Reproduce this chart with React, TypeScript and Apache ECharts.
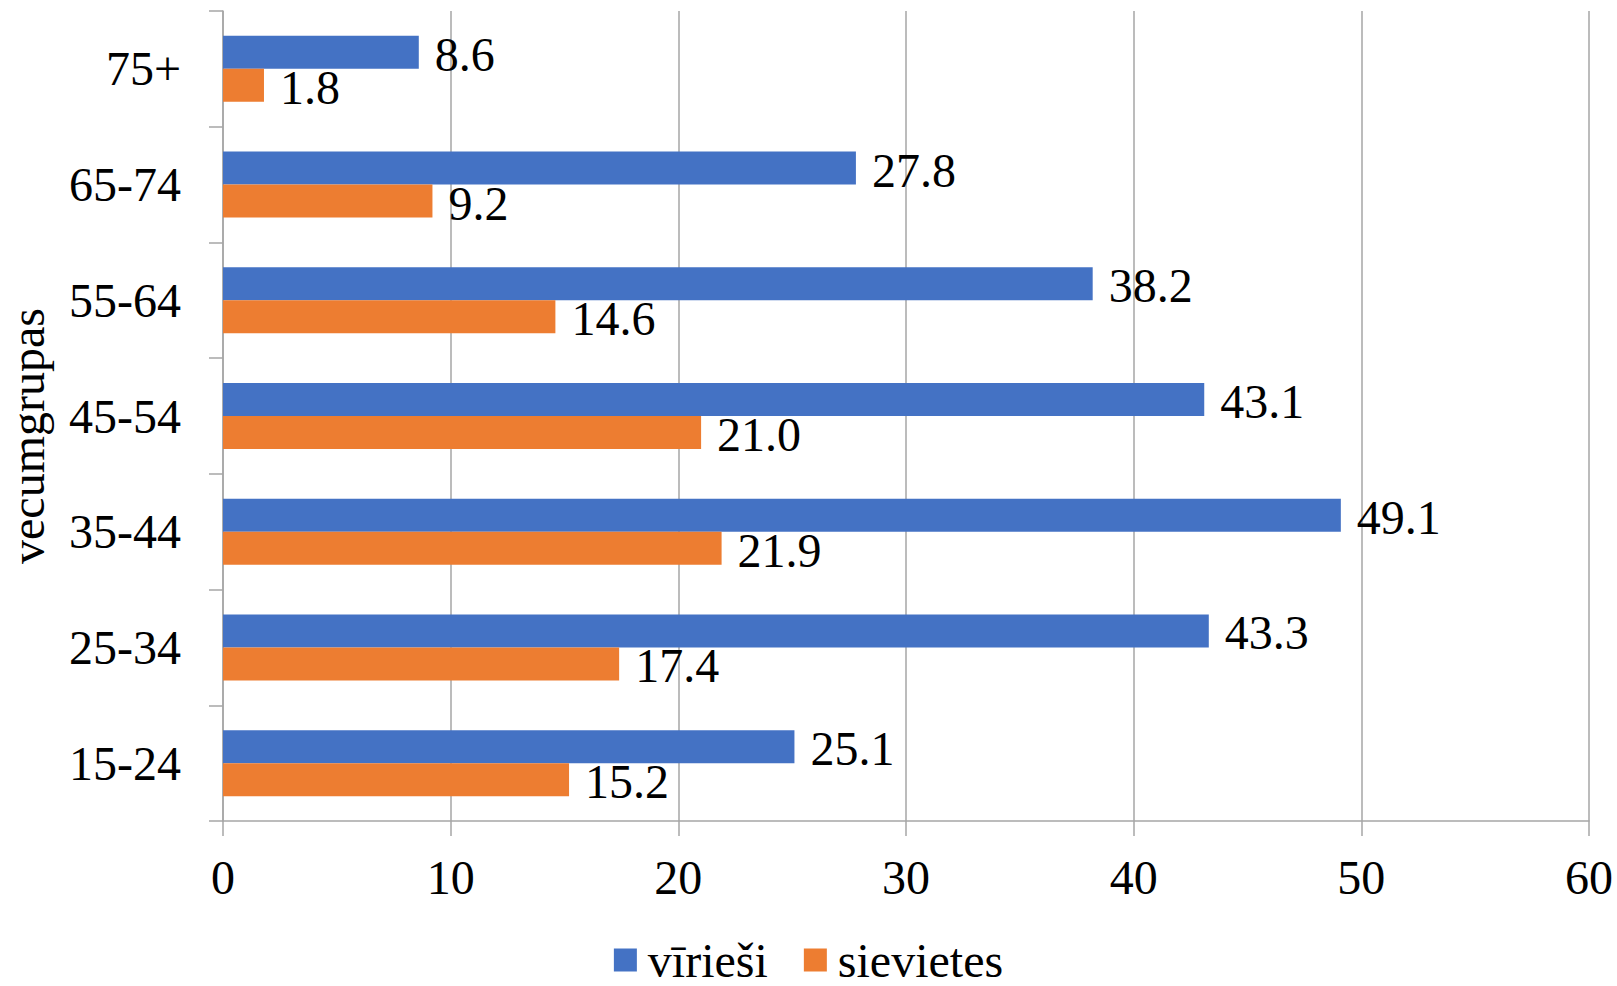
import React, { useEffect, useRef } from "react";
import * as echarts from "echarts";

const categories = ["15-24", "25-34", "35-44", "45-54", "55-64", "65-74", "75+"];
const men = [25.1, 43.3, 49.1, 43.1, 38.2, 27.8, 8.6];
const women = [15.2, 17.4, 21.9, 21.0, 14.6, 9.2, 1.8];
const xTicks = { min: 0, max: 60, interval: 10 };
const menName = "vīrieši";
const womenName = "sievietes";
const yAxisTitle = "vecumgrupas";

const FONT = "'Liberation Serif', 'Times New Roman', serif";

export default function App() {
  const ref = useRef<HTMLDivElement>(null);
  useEffect(() => {
    if (!ref.current) return;
    const chart = echarts.init(ref.current, undefined, { renderer: "svg" });
    const labelStyle = {
      show: true,
      position: "right" as const,
      distance: 16,
      offset: [0, 2],
      fontFamily: FONT,
      fontSize: 48,
      color: "#000",
      formatter: (p: any) => Number(p.value).toFixed(1),
    };
    chart.setOption({
      animation: false,
      textStyle: { fontFamily: FONT },
      grid: { left: 223, right: 28, top: 11, bottom: 165, containLabel: false },
      legend: {
        data: [menName, womenName],
        bottom: 2,
        left: "center",
        itemWidth: 23,
        itemHeight: 23,
        itemGap: 36,
        icon: "rect",
        padding: 0,
        textStyle: {
          fontFamily: FONT,
          fontSize: 48,
          lineHeight: 24,
          color: "#000",
          padding: [0, 0, 0, 6],
        },
      },
      xAxis: {
        type: "value",
        min: xTicks.min,
        max: xTicks.max,
        interval: xTicks.interval,
        axisLine: { show: true, lineStyle: { color: "#A6A6A6", width: 1.5 } },
        axisTick: { show: true, length: 15, lineStyle: { color: "#A6A6A6", width: 1.5 } },
        splitLine: { show: true, lineStyle: { color: "#A6A6A6", width: 1.5 } },
        axisLabel: { fontFamily: FONT, fontSize: 48, color: "#000", margin: 32 },
      },
      yAxis: {
        type: "category",
        data: categories,
        axisLine: { show: true, lineStyle: { color: "#A6A6A6", width: 1.5 } },
        axisTick: { show: true, length: 14, lineStyle: { color: "#A6A6A6", width: 1.5 } },
        axisLabel: { fontFamily: FONT, fontSize: 48, color: "#000", margin: 42 },
      },
      graphic: [
        {
          type: "text",
          x: 27,
          y: 436,
          rotation: Math.PI / 2,
          style: {
            text: yAxisTitle,
            fontFamily: FONT,
            fontSize: 48,
            lineHeight: 38,
            fill: "#000",
            align: "center",
            verticalAlign: "middle",
          },
        },
      ],
      series: [
        {
          name: menName,
          type: "bar",
          data: men,
          barWidth: 33,
          barGap: "0%",
          itemStyle: { color: "#4472C4" },
          label: labelStyle,
        },
        {
          name: womenName,
          type: "bar",
          data: women,
          barWidth: 33,
          barGap: "0%",
          itemStyle: { color: "#ED7D31" },
          label: labelStyle,
        },
      ],
    });
    return () => chart.dispose();
  }, []);
  return <div ref={ref} style={{ width: 1617, height: 986, position: "absolute", left: 0, top: 0 }} />;
}
